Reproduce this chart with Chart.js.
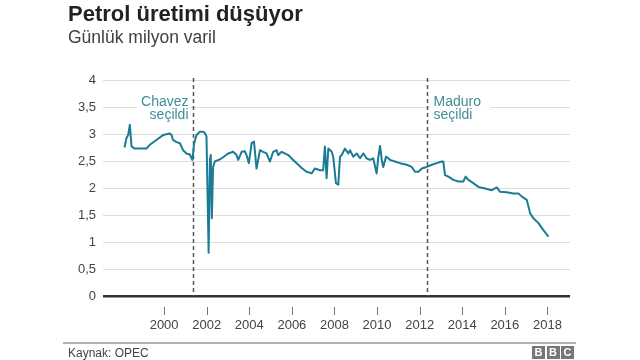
<!DOCTYPE html>
<html>
<head>
<meta charset="utf-8">
<script src="https://cdn.jsdelivr.net/npm/chart.js@4.4.1/dist/chart.umd.min.js"></script>
<style>
  html, body { margin: 0; padding: 0; background: #fff; }
  #wrap { position: relative; width: 640px; height: 360px; overflow: hidden; font-family: 'Liberation Sans', Arial, sans-serif; }
  #c { position: absolute; left: 0; top: 0; }
  .title { position: absolute; left: 68px; top: 1px; font-size: 22px; font-weight: bold; color: #222; white-space: nowrap; }
  .sub { position: absolute; left: 68px; top: 27px; font-size: 17.5px; color: #404040; white-space: nowrap; }
  .rule { position: absolute; left: 63px; top: 342px; width: 513px; height: 2px; background: #b0b0b0; }
  .src { position: absolute; left: 68px; top: 346px; font-size: 12px; color: #444; white-space: nowrap; }
  .bbc { position: absolute; top: 346px; width: 13px; height: 13px; background: #777; color: #fff; font-size: 11px; font-weight: bold; text-align: center; line-height: 13px; }
</style>
</head>
<body>
<div id="wrap">
  <canvas id="c" width="640" height="360"></canvas>
  <div class="title">Petrol üretimi düşüyor</div>
  <div class="sub">Günlük milyon varil</div>
  <div class="rule"></div>
  <div class="src">Kaynak: OPEC</div>
  <div class="bbc" style="left:532px">B</div>
  <div class="bbc" style="left:546.5px">B</div>
  <div class="bbc" style="left:561px">C</div>
</div>
<script>
// ---- data ----
const years = [
  1998.14, 1998.23, 1998.31, 1998.39, 1998.47, 1998.62, 1999.17, 1999.33, 1999.64, 1999.95,
  2000.27, 2000.35, 2000.42, 2000.58, 2000.74, 2000.89, 2001.05, 2001.21, 2001.29, 2001.33,
  2001.41, 2001.52, 2001.68, 2001.83, 2001.91, 2001.99, 2002.04, 2002.09, 2002.15, 2002.19,
  2002.24, 2002.30, 2002.38, 2002.62, 2002.77, 2003.01, 2003.24, 2003.40, 2003.48, 2003.64,
  2003.79, 2003.87, 2003.98, 2004.11, 2004.22, 2004.34, 2004.50, 2004.65, 2004.81, 2004.97,
  2005.12, 2005.28, 2005.36, 2005.52, 2005.67, 2005.83, 2006.06, 2006.30, 2006.46, 2006.69,
  2006.93, 2007.08, 2007.32, 2007.47, 2007.55, 2007.63, 2007.71, 2007.87, 2007.94, 2008.07,
  2008.18, 2008.26, 2008.34, 2008.49, 2008.65, 2008.73, 2008.88, 2009.04, 2009.20, 2009.35,
  2009.51, 2009.67, 2009.82, 2009.98, 2010.06, 2010.14, 2010.22, 2010.29, 2010.42, 2010.53,
  2010.61, 2010.84, 2011.08, 2011.39, 2011.63, 2011.78, 2011.94, 2012.10, 2012.33, 2012.57,
  2012.80, 2013.04, 2013.11, 2013.19, 2013.35, 2013.58, 2013.82, 2014.05, 2014.16, 2014.29,
  2014.52, 2014.76, 2015.07, 2015.39, 2015.62, 2015.78, 2016.09, 2016.40, 2016.64, 2016.80,
  2017.03, 2017.19, 2017.34, 2017.58, 2017.81, 2018.05
];
const production = [
  2.75, 2.92, 2.98, 3.17, 2.77, 2.73, 2.73, 2.80, 2.89, 2.98,
  3.01, 2.98, 2.89, 2.85, 2.83, 2.70, 2.64, 2.62, 2.55, 2.52,
  2.83, 2.98, 3.04, 3.04, 3.02, 2.95, 1.90, 0.80, 2.52, 2.61,
  1.44, 2.39, 2.49, 2.53, 2.57, 2.64, 2.67, 2.61, 2.52, 2.67,
  2.68, 2.61, 2.46, 2.83, 2.86, 2.36, 2.70, 2.67, 2.64, 2.49,
  2.67, 2.70, 2.61, 2.67, 2.64, 2.61, 2.52, 2.43, 2.37, 2.30,
  2.27, 2.36, 2.33, 2.33, 2.77, 2.18, 2.73, 2.67, 2.58, 2.09,
  2.06, 2.58, 2.61, 2.73, 2.64, 2.70, 2.58, 2.64, 2.55, 2.64,
  2.55, 2.52, 2.55, 2.27, 2.58, 2.78, 2.52, 2.39, 2.58, 2.55,
  2.52, 2.49, 2.46, 2.43, 2.39, 2.30, 2.30, 2.36, 2.39, 2.43,
  2.46, 2.49, 2.49, 2.24, 2.21, 2.15, 2.12, 2.12, 2.21, 2.15,
  2.09, 2.02, 1.99, 1.96, 2.01, 1.93, 1.92, 1.90, 1.90, 1.84,
  1.78, 1.53, 1.44, 1.35, 1.22, 1.10
];
const xTickYears = [2000, 2002, 2004, 2006, 2008, 2010, 2012, 2014, 2016, 2018];
const eventNames = ['Chavez', 'Maduro'];
const eventLabel2 = ['seçildi', 'seçildi'];
const eventYears = [2001.35, 2012.33];

const points = years.map((x, i) => ({ x: x, y: production[i] }));

const overlay = {
  id: 'overlay',
  beforeDatasetsDraw(chart) {
    const ctx = chart.ctx, xs = chart.scales.x, ys = chart.scales.y, a = chart.chartArea;
    ctx.save();
    ctx.font = '14px "Liberation Sans", Arial, sans-serif';
    eventYears.forEach((yr, i) => {
      const px = Math.round(xs.getPixelForValue(yr)) + 0.5;
      const right = i === 0;
      const w = Math.max(ctx.measureText(eventNames[i]).width, ctx.measureText(eventLabel2[i]).width);
      ctx.fillStyle = '#fff';
      if (right) ctx.fillRect(px - 5 - w - 4, a.top + 12, w + 6, 30);
      else ctx.fillRect(px + 3, a.top + 12, w + 12, 30);
      ctx.fillStyle = '#3f8e9a';
      ctx.textBaseline = 'middle';
      ctx.textAlign = right ? 'right' : 'left';
      const tx = right ? px - 5 : px + 6;
      ctx.fillText(eventNames[i], tx, a.top + 22);
      ctx.fillText(eventLabel2[i], tx, a.top + 35);
      ctx.strokeStyle = '#555';
      ctx.lineWidth = 1.5;
      ctx.setLineDash([4, 3]);
      ctx.beginPath();
      ctx.moveTo(px, a.top - 2);
      ctx.lineTo(px, a.bottom);
      ctx.stroke();
      ctx.setLineDash([]);
    });
    ctx.strokeStyle = '#777';
    ctx.lineWidth = 1;
    xTickYears.forEach(v => {
      const px = Math.round(xs.getPixelForValue(v)) + 0.5;
      ctx.beginPath();
      ctx.moveTo(px, a.bottom + 11);
      ctx.lineTo(px, a.bottom + 19);
      ctx.stroke();
    });
    ctx.restore();
  }
};

new Chart(document.getElementById('c'), {
  type: 'line',
  data: {
    datasets: [{
      data: points,
      borderColor: '#1a7b95',
      borderWidth: 2,
      pointRadius: 0,
      tension: 0,
      fill: false,
      borderJoinStyle: 'round'
    }]
  },
  options: {
    responsive: false,
    animation: false,
    layout: { padding: { top: 80, right: 70, left: 0, bottom: 0 } },
    plugins: { legend: { display: false }, tooltip: { enabled: false } },
    scales: {
      x: {
        type: 'linear',
        min: 1997.13,
        max: 2019.06,
        afterBuildTicks: s => { s.ticks = xTickYears.map(v => ({ value: v })); },
        afterFit: s => { s.height = 64; },
        grid: { display: false, drawTicks: false },
        border: { display: false },
        ticks: {
          autoSkip: false, maxRotation: 0, padding: 22,
          color: '#444',
          font: { family: '"Liberation Sans", Arial, sans-serif', size: 13 },
          callback: v => String(v)
        }
      },
      y: {
        min: 0, max: 4,
        afterFit: s => { s.width = 103; },
        grid: {
          drawTicks: false,
          color: c => c.tick && c.tick.value === 0 ? '#333' : '#dcdcdc',
          lineWidth: c => c.tick && c.tick.value === 0 ? 2.5 : 1
        },
        border: { display: false },
        ticks: {
          stepSize: 0.5, padding: 7,
          color: '#444',
          font: { family: '"Liberation Sans", Arial, sans-serif', size: 13 },
          callback: v => String(v).replace('.', ',')
        }
      }
    }
  },
  plugins: [overlay]
});
</script>
</body>
</html>
